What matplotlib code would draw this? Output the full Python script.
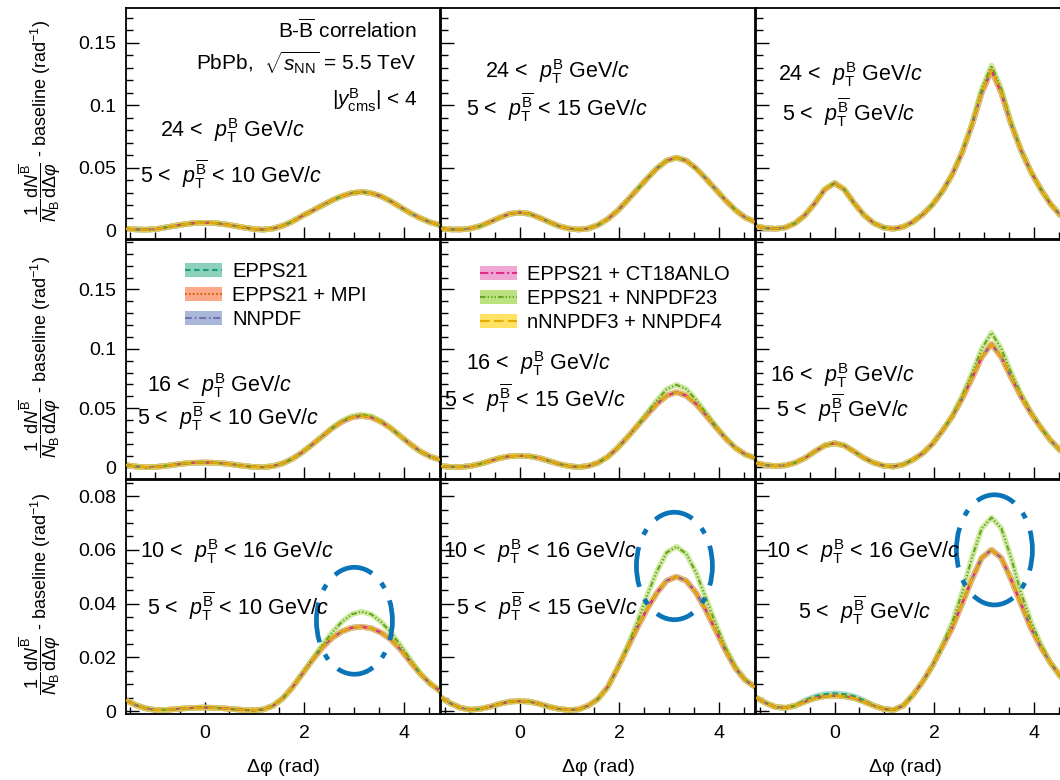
import numpy as np
import matplotlib
matplotlib.use("Agg")
import matplotlib.pyplot as plt
from matplotlib.ticker import MultipleLocator, FixedLocator, FuncFormatter
from matplotlib.patches import Ellipse, Patch
from matplotlib.lines import Line2D
from matplotlib.legend_handler import HandlerTuple

plt.rcParams.update({
    "font.family": ["Liberation Sans", "DejaVu Sans"],
    "mathtext.fontset": "custom",
    "mathtext.rm": "Liberation Sans",
    "mathtext.it": "Liberation Sans:italic",
    "mathtext.bf": "Liberation Sans:bold",
    "mathtext.sf": "Liberation Sans",
    "lines.scale_dashes": False,
})

# ---------------- data ----------------
# delta-phi grid: -pi/2 ... 3pi/2 in steps of pi/16
phi = np.linspace(-np.pi / 2, 3 * np.pi / 2, 33)

models = ["EPPS21", "EPPS21 + MPI", "NNPDF",
          "EPPS21 + CT18ANLO", "EPPS21 + NNPDF23", "nNNPDF3 + NNPDF4"]
line_colors = ["#1b9e77", "#d95f02", "#7570b3", "#e7298a", "#66a61e", "#e6ab02"]
band_colors = ["#66c2a5", "#fc8d62", "#8da0cb", "#e78ac3", "#a6d854", "#ffd92f"]
line_styles = [(0, (4, 2.5)), (0, (1.2, 1.6)), (0, (5, 2, 1.2, 2)),
               (0, (6, 2, 1.5, 2)), (0, (4, 1.5, 1, 1.5, 1, 1.5, 1, 1.5)), (0, (7, 3))]

# top row: 24 < pT(B)
tl_common = [0.0010, 0.0005, 0.0003, 0.0007, 0.0020, 0.0034, 0.0047, 0.0056, 0.0058, 0.0056, 0.0047,
             0.0034, 0.0020, 0.0008, 0.0003, 0.0012, 0.0035, 0.0070, 0.0115, 0.0155, 0.0198, 0.0238,
             0.0272, 0.0296, 0.0306, 0.0296, 0.0270, 0.0230, 0.0182, 0.0135, 0.0095, 0.0062, 0.0040]
tm_common = [0.0012, 0.0005, 0.0004, 0.0012, 0.0032, 0.0065, 0.0100, 0.0130, 0.0140, 0.0130, 0.0100,
             0.0065, 0.0032, 0.0012, 0.0004, 0.0012, 0.0040, 0.0088, 0.0155, 0.0238, 0.0325, 0.0412,
             0.0494, 0.0556, 0.0580, 0.0556, 0.0494, 0.0412, 0.0325, 0.0238, 0.0160, 0.0100, 0.0065]
tr_common = [0.0030, 0.0015, 0.0010, 0.0020, 0.0055, 0.0120, 0.0215, 0.0325, 0.0375, 0.0325, 0.0215,
             0.0120, 0.0055, 0.0020, 0.0010, 0.0025, 0.0065, 0.0125, 0.0205, 0.0310, 0.0445, 0.0620,
             0.0840, 0.1100, 0.1280, 0.1100, 0.0850, 0.0640, 0.0470, 0.0330, 0.0210, 0.0120, 0.0070]
tr_nnpdf23 = [0.0030, 0.0015, 0.0010, 0.0020, 0.0055, 0.0120, 0.0215, 0.0325, 0.0380, 0.0325, 0.0215,
              0.0120, 0.0055, 0.0020, 0.0010, 0.0025, 0.0065, 0.0125, 0.0205, 0.0310, 0.0445, 0.0625,
              0.0850, 0.1130, 0.1320, 0.1130, 0.0860, 0.0645, 0.0470, 0.0330, 0.0210, 0.0120, 0.0070]

# middle row: 16 < pT(B)
ml_common = [0.0020, 0.0008, 0.0003, 0.0005, 0.0013, 0.0024, 0.0034, 0.0040, 0.0042, 0.0040, 0.0034,
             0.0024, 0.0013, 0.0005, 0.0003, 0.0012, 0.0035, 0.0075, 0.0130, 0.0195, 0.0262, 0.0330,
             0.0385, 0.0422, 0.0435, 0.0422, 0.0385, 0.0330, 0.0262, 0.0195, 0.0135, 0.0092, 0.0065]
ml_nnpdf23 = [0.0020, 0.0008, 0.0003, 0.0005, 0.0013, 0.0024, 0.0034, 0.0040, 0.0042, 0.0040, 0.0034,
              0.0024, 0.0013, 0.0005, 0.0003, 0.0012, 0.0035, 0.0075, 0.0130, 0.0195, 0.0264, 0.0334,
              0.0392, 0.0430, 0.0445, 0.0432, 0.0390, 0.0332, 0.0262, 0.0195, 0.0135, 0.0092, 0.0065]
mm_common = [0.0012, 0.0005, 0.0004, 0.0012, 0.0030, 0.0055, 0.0080, 0.0095, 0.0098, 0.0095, 0.0080,
             0.0055, 0.0030, 0.0012, 0.0004, 0.0012, 0.0040, 0.0090, 0.0165, 0.0255, 0.0350, 0.0445,
             0.0535, 0.0605, 0.0635, 0.0605, 0.0535, 0.0440, 0.0340, 0.0245, 0.0165, 0.0110, 0.0080]
mm_nnpdf23 = [0.0012, 0.0005, 0.0004, 0.0012, 0.0030, 0.0055, 0.0080, 0.0095, 0.0098, 0.0095, 0.0080,
              0.0055, 0.0030, 0.0012, 0.0004, 0.0012, 0.0040, 0.0090, 0.0165, 0.0255, 0.0352, 0.0460,
              0.0565, 0.0660, 0.0697, 0.0660, 0.0570, 0.0460, 0.0350, 0.0250, 0.0165, 0.0110, 0.0080]
mr_common = [0.0037, 0.0020, 0.0012, 0.0018, 0.0040, 0.0080, 0.0135, 0.0185, 0.0205, 0.0185, 0.0135,
             0.0080, 0.0040, 0.0015, 0.0008, 0.0025, 0.0065, 0.0120, 0.0200, 0.0310, 0.0430, 0.0580,
             0.0750, 0.0930, 0.1040, 0.0930, 0.0760, 0.0600, 0.0460, 0.0340, 0.0230, 0.0145, 0.0095]
mr_nnpdf23 = [0.0037, 0.0020, 0.0012, 0.0018, 0.0040, 0.0080, 0.0135, 0.0185, 0.0205, 0.0185, 0.0135,
              0.0080, 0.0040, 0.0015, 0.0008, 0.0025, 0.0065, 0.0120, 0.0200, 0.0310, 0.0435, 0.0600,
              0.0790, 0.1000, 0.1135, 0.1000, 0.0800, 0.0620, 0.0470, 0.0340, 0.0230, 0.0145, 0.0095]

# bottom row: 10 < pT(B) < 16
bl_common = [0.0040, 0.0022, 0.0010, 0.0004, 0.0004, 0.0007, 0.0010, 0.0012, 0.0013, 0.0012, 0.0010,
             0.0007, 0.0004, 0.0003, 0.0006, 0.0020, 0.0048, 0.0090, 0.0140, 0.0190, 0.0236, 0.0272,
             0.0296, 0.0310, 0.0314, 0.0308, 0.0292, 0.0266, 0.0228, 0.0182, 0.0138, 0.0102, 0.0075]
bl_nnpdf23 = [0.0040, 0.0022, 0.0010, 0.0004, 0.0004, 0.0007, 0.0010, 0.0012, 0.0013, 0.0012, 0.0010,
              0.0007, 0.0004, 0.0003, 0.0006, 0.0020, 0.0048, 0.0090, 0.0140, 0.0192, 0.0245, 0.0292,
              0.0332, 0.0360, 0.0370, 0.0360, 0.0332, 0.0292, 0.0243, 0.0190, 0.0140, 0.0102, 0.0075]
bm_common = [0.0050, 0.0028, 0.0012, 0.0005, 0.0008, 0.0016, 0.0027, 0.0035, 0.0037, 0.0035, 0.0027,
             0.0016, 0.0008, 0.0004, 0.0006, 0.0020, 0.0045, 0.0090, 0.0160, 0.0235, 0.0310, 0.0380,
             0.0440, 0.0485, 0.0500, 0.0485, 0.0440, 0.0375, 0.0300, 0.0225, 0.0160, 0.0115, 0.0090]
bm_nnpdf23 = [0.0050, 0.0028, 0.0012, 0.0005, 0.0008, 0.0016, 0.0027, 0.0035, 0.0037, 0.0035, 0.0027,
              0.0016, 0.0008, 0.0004, 0.0006, 0.0020, 0.0045, 0.0090, 0.0160, 0.0240, 0.0330, 0.0430,
              0.0520, 0.0590, 0.0612, 0.0585, 0.0515, 0.0420, 0.0325, 0.0235, 0.0165, 0.0117, 0.0090]
br_common = [0.0050, 0.0030, 0.0015, 0.0012, 0.0020, 0.0035, 0.0048, 0.0055, 0.0057, 0.0055, 0.0048,
             0.0035, 0.0020, 0.0008, 0.0004, 0.0020, 0.0060, 0.0110, 0.0170, 0.0240, 0.0310, 0.0400,
             0.0490, 0.0570, 0.0600, 0.0570, 0.0490, 0.0400, 0.0310, 0.0240, 0.0180, 0.0130, 0.0090]
br_epps21 = [0.0050, 0.0030, 0.0015, 0.0012, 0.0020, 0.0040, 0.0055, 0.0063, 0.0066, 0.0063, 0.0055,
             0.0040, 0.0020, 0.0008, 0.0004, 0.0020, 0.0060, 0.0110, 0.0170, 0.0240, 0.0310, 0.0400,
             0.0490, 0.0570, 0.0600, 0.0570, 0.0490, 0.0400, 0.0310, 0.0240, 0.0180, 0.0130, 0.0090]
br_nnpdf23 = [0.0050, 0.0030, 0.0015, 0.0012, 0.0020, 0.0035, 0.0048, 0.0055, 0.0057, 0.0055, 0.0048,
              0.0035, 0.0020, 0.0008, 0.0004, 0.0020, 0.0060, 0.0110, 0.0170, 0.0245, 0.0330, 0.0440,
              0.0570, 0.0680, 0.0720, 0.0680, 0.0570, 0.0440, 0.0335, 0.0250, 0.0180, 0.0130, 0.0090]


def panel(common, **special):
    keys = {"EPPS21": "epps21", "EPPS21 + NNPDF23": "nnpdf23"}
    return [special.get(keys.get(m, ""), common) for m in models]


panel_data = [
    [panel(tl_common), panel(tm_common), panel(tr_common, nnpdf23=tr_nnpdf23)],
    [panel(ml_common, nnpdf23=ml_nnpdf23), panel(mm_common, nnpdf23=mm_nnpdf23),
     panel(mr_common, nnpdf23=mr_nnpdf23)],
    [panel(bl_common, nnpdf23=bl_nnpdf23), panel(bm_common, nnpdf23=bm_nnpdf23),
     panel(br_common, epps21=br_epps21, nnpdf23=br_nnpdf23)],
]

# ---------------- layout ----------------
W, H = 1060, 780
fig = plt.figure(figsize=(W / 100, H / 100), dpi=100)

col_px = [126, 441, 756]
col_w = 314
row_px = [(8, 239), (240, 479), (480, 714)]
ylims = [(-0.0072, 0.178), (-0.0097, 0.1917), (-0.0011, 0.086)]


def fx(x):
    return x / W


def fy(y):
    return 1 - y / H


fmt = FuncFormatter(lambda v, p: ("%g" % v))
axes = [[None] * 3 for _ in range(3)]
for r in range(3):
    t, b = row_px[r]
    for c in range(3):
        ax = fig.add_axes([fx(col_px[c]), fy(b), col_w / W, (b - t) / H])
        axes[r][c] = ax
        ax.set_xlim(-np.pi / 2, 3 * np.pi / 2)
        ax.set_ylim(*ylims[r])
        ax.xaxis.set_major_locator(FixedLocator([0, 2, 4]))
        ax.xaxis.set_minor_locator(MultipleLocator(0.5))
        if r < 2:
            ax.yaxis.set_major_locator(FixedLocator([0, 0.05, 0.1, 0.15]))
            ax.yaxis.set_minor_locator(MultipleLocator(0.01))
        else:
            ax.yaxis.set_major_locator(FixedLocator([0, 0.02, 0.04, 0.06, 0.08]))
            ax.yaxis.set_minor_locator(MultipleLocator(0.005))
        ax.yaxis.set_major_formatter(fmt)
        ax.xaxis.set_major_formatter(fmt)
        ax.tick_params(which="both", direction="in", top=False, right=False)
        ax.tick_params(which="major", length=9, width=1.0)
        ax.tick_params(which="minor", length=5, width=1.0)
        ax.tick_params(axis="both", labelsize=14)
        ax.tick_params(axis="x", pad=8)
        ax.tick_params(axis="y", pad=7)
        ax.tick_params(labelbottom=(r == 2), labelleft=(c == 0))
        for s in ax.spines.values():
            s.set_linewidth(1.3)

        series = panel_data[r][c]
        for i in range(len(models)):
            ax.plot(phi, series[i], color=band_colors[i], lw=4.0, alpha=0.55,
                    solid_capstyle="round", zorder=2)
        for i in range(len(models)):
            ax.plot(phi, series[i], color=line_colors[i], lw=1.5, ls=line_styles[i],
                    dash_capstyle="butt", zorder=3)

        if r == 2:
            xl = 0.475 if c == 2 else 0.5
            ax.text(xl, (714 - 768) / 234, "Δφ (rad)", transform=ax.transAxes,
                    ha="center", va="center", fontsize=14)

# y-axis titles
ylab = (r"$\dfrac{1}{N_{\rm B}}\dfrac{{\rm d}N^{\overline{\rm B}}}{{\rm d}\Delta\varphi}$"
        r" - baseline (rad$^{-1}$)")
for r in range(3):
    t, b = row_px[r]
    fig.text(fx(40), fy((t + b) / 2 - 3), ylab, rotation=90, ha="center", va="center",
             fontsize=13)

# ---------------- annotations ----------------
pB = r"$p_{\rm T}^{\rm B}$"
pBb = r"$p_{\rm T}^{\overline{\rm B}}$"
header = [
    (417, 38, r"B-$\overline{\rm B}$ correlation"),
    (417, 70, r"PbPb,  $\sqrt{s_{\rm NN}}$ = 5.5 TeV"),
    (417, 106, r"$|y^{\rm B}_{\rm cms}|$ < 4"),
]
for x, y, s in header:
    fig.text(fx(x), fy(y), s, ha="right", va="baseline", fontsize=15, zorder=5)

texts = [
    (160, 137, "24 <  " + pB + " GeV/$c$"),
    (140, 183, "5 <  " + pBb + " < 10 GeV/$c$"),
    (485, 78, "24 <  " + pB + " GeV/$c$"),
    (466, 116, "5 <  " + pBb + " < 15 GeV/$c$"),
    (778, 81, "24 <  " + pB + " GeV/$c$"),
    (782, 121, "5 <  " + pBb + " GeV/$c$"),
    (147, 392, "16 <  " + pB + " GeV/$c$"),
    (137, 425, "5 <  " + pBb + " < 10 GeV/$c$"),
    (466, 370, "16 <  " + pB + " GeV/$c$"),
    (444, 407, "5 <  " + pBb + " < 15 GeV/$c$"),
    (770, 382, "16 <  " + pB + " GeV/$c$"),
    (776, 417, "5 <  " + pBb + " GeV/$c$"),
    (140, 558, "10 <  " + pB + " < 16 GeV/$c$"),
    (147, 615, "5 <  " + pBb + " < 10 GeV/$c$"),
    (443, 558, "10 <  " + pB + " < 16 GeV/$c$"),
    (456, 615, "5 <  " + pBb + " < 15 GeV/$c$"),
    (766, 558, "10 <  " + pB + " < 16 GeV/$c$"),
    (798, 619, "5 <  " + pBb + " GeV/$c$"),
]
for x, y, s in texts:
    fig.text(fx(x), fy(y), s, ha="left", va="baseline", fontsize=15.5, zorder=5)

# ---------------- legends ----------------
def handles(idx):
    return [(Patch(facecolor=band_colors[i], edgecolor="none", alpha=0.75),
             Line2D([], [], color=line_colors[i], ls=line_styles[i], lw=1.5)) for i in idx]


for ax, idx, (lx, ly) in [(axes[1][0], [0, 1, 2], (185, 262)),
                          (axes[1][1], [3, 4, 5], (480, 265))]:
    ax.legend(handles(idx), [models[i] for i in idx], loc="upper left",
              bbox_to_anchor=(fx(lx), fy(ly)), bbox_transform=fig.transFigure,
              frameon=False, fontsize=14.5, handlelength=1.85, handleheight=0.7,
              handletextpad=0.5, labelspacing=0.25, borderpad=0, borderaxespad=0,
              handler_map={tuple: HandlerTuple(ndivide=1)})

# ---------------- highlight ellipses (bottom row) ----------------
ell_color = "#0a74b9"
ell_style = (14.5, (29, 9.5, 4.5, 9.5))
for c, (ex, ey, ew, eh) in enumerate([(3.0, 0.0336, 1.52, 0.0398),
                                       (3.1, 0.0540, 1.52, 0.0400),
                                       (3.2, 0.0600, 1.52, 0.0410)]):
    axes[2][c].add_patch(Ellipse((ex, ey), ew, eh, fill=False, edgecolor=ell_color,
                                 lw=3.4, linestyle=ell_style, clip_on=False, zorder=6))

fig.savefig("out.png", dpi=100)
